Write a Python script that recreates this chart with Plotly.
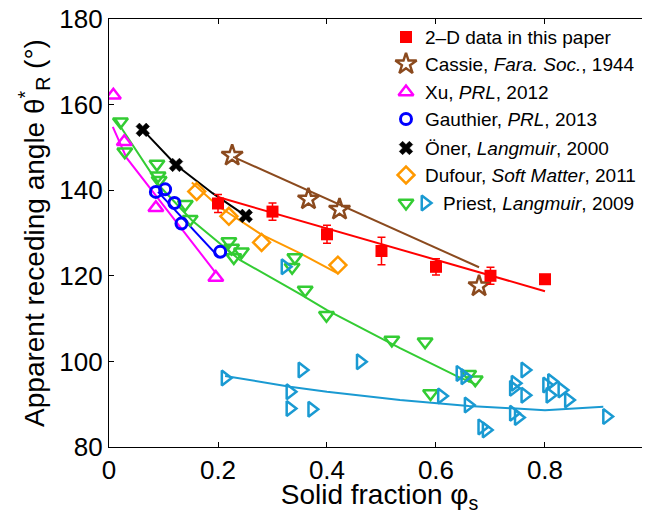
import plotly.graph_objects as go

# ---------------- data ----------------
red_x = [0.2, 0.3, 0.4, 0.5, 0.6, 0.7, 0.8]
red_y = [136.9, 135.0, 129.7, 125.8, 122.1, 120.0, 119.2]
red_err = [2.1, 2.0, 2.1, 3.2, 1.9, 2.0, 0.0]
red_fit_x = [0.2, 0.8]
red_fit_y = [138.4, 116.4]

cassie_x = [0.226, 0.366, 0.423, 0.679]
cassie_y = [148.1, 137.9, 135.5, 117.6]
cassie_fit_x = [0.228, 0.679]
cassie_fit_y = [147.8, 122.0]

xu_x = [0.008, 0.028, 0.086, 0.196]
xu_y = [162.2, 151.3, 135.9, 119.6]
xu_fit_x = [0.007, 0.032, 0.194]
xu_fit_y = [154.8, 147.6, 121.0]

gauthier_x = [0.086, 0.103, 0.120, 0.133, 0.204]
gauthier_y = [139.6, 140.2, 137.0, 132.2, 125.6]
gauthier_fit_x = [0.090, 0.202]
gauthier_fit_y = [139.6, 124.3]

oner_x = [0.062, 0.123, 0.251]
oner_y = [154.1, 145.9, 134.0]
oner_fit_x = [0.062, 0.123, 0.190, 0.251]
oner_fit_y = [154.1, 145.9, 139.3, 134.0]

dufour_x = [0.161, 0.220, 0.280, 0.420]
dufour_y = [139.7, 133.9, 127.8, 122.5]
dufour_fit_x = [0.152, 0.200, 0.280, 0.350, 0.418]
dufour_fit_y = [141.8, 136.3, 129.6, 125.3, 120.7]

priest_g_x = [0.021, 0.029, 0.088, 0.090, 0.092, 0.140, 0.149, 0.220, 0.225, 0.243,
              0.229, 0.341, 0.336, 0.360, 0.399, 0.519, 0.580, 0.590, 0.660, 0.672]
priest_g_y = [156.0, 149.0, 146.1, 143.4, 142.3, 136.7, 133.2, 128.0, 126.5, 125.6,
              124.3, 124.3, 122.0, 116.7, 110.8, 105.0, 104.6, 92.5, 97.0, 95.7]
priest_g_fit_x = [0.011, 0.094, 0.152, 0.240, 0.350, 0.400, 0.534, 0.641, 0.675]
priest_g_fit_y = [156.8, 140.8, 133.0, 123.7, 115.8, 112.0, 103.1, 96.4, 94.5]

priest_c_x = [0.323, 0.213, 0.354, 0.332, 0.332, 0.372, 0.461, 0.644, 0.653, 0.610,
              0.659, 0.684, 0.692, 0.763, 0.745, 0.742, 0.763, 0.742, 0.751, 0.803,
              0.812, 0.809, 0.831, 0.843, 0.913]
priest_c_y = [122.1, 96.1, 98.0, 92.9, 89.0, 88.8, 99.9, 97.2, 96.4, 91.9,
              89.8, 84.7, 84.0, 98.0, 94.9, 93.7, 92.1, 87.9, 86.9, 94.5,
              95.3, 92.1, 93.3, 91.0, 87.1]
priest_c_fit_x = [0.213, 0.332, 0.400, 0.534, 0.660, 0.800, 0.907]
priest_c_fit_y = [96.6, 94.1, 92.9, 91.0, 89.6, 88.6, 89.4]

x_ticks = [0, 0.2, 0.4, 0.6, 0.8]
x_tick_text = ["0", "0.2", "0.4", "0.6", "0.8"]
y_ticks = [80, 100, 120, 140, 160, 180]

legend_labels = [
    "2\u2013D data in this paper",
    "Cassie, <i>Fara. Soc.</i>, 1944",
    "Xu, <i>PRL</i>, 2012",
    "Gauthier, <i>PRL</i>, 2013",
    "\u00d6ner, <i>Langmuir</i>, 2000",
    "Dufour, <i>Soft Matter</i>, 2011",
    "Priest, <i>Langmuir</i>, 2009",
]

# ---------------- style ----------------
RED = "#FF0000"
BROWN = "#8B4A1E"
MAGENTA = "#FF00FF"
BLUE = "#0000FF"
BLACK = "#000000"
ORANGE = "#FF9900"
GREEN = "#33CC33"
CYAN = "#1A9AD2"
FONT = "Liberation Sans, Arial, Helvetica, sans-serif"

# page body has an 8px default margin -> figure is shifted by 8px
W, H = 642, 506
ML, MT = 101, 11
PLOT_W, PLOT_H = 541, 428

fig = go.Figure()


def fit(x, y, color):
    fig.add_trace(go.Scatter(x=x, y=y, mode="lines", line=dict(color=color, width=2),
                             showlegend=False, hoverinfo="skip"))


def pts(x, y, color, symbol, size, lw=2.5, **kw):
    fig.add_trace(go.Scatter(x=x, y=y, mode="markers",
                             marker=dict(symbol=symbol, size=size, color=color,
                                         line=dict(color=color, width=lw)),
                             showlegend=False, **kw))


fit(priest_c_fit_x, priest_c_fit_y, CYAN)
fit(priest_g_fit_x, priest_g_fit_y, GREEN)
fit(xu_fit_x, xu_fit_y, MAGENTA)
fit(gauthier_fit_x, gauthier_fit_y, BLUE)
fit(dufour_fit_x, dufour_fit_y, ORANGE)
fit(oner_fit_x, oner_fit_y, BLACK)
fit(cassie_fit_x, cassie_fit_y, BROWN)
fit(red_fit_x, red_fit_y, RED)

pts(priest_g_x, priest_g_y, GREEN, "triangle-down-open", 13)
pts(priest_c_x, priest_c_y, CYAN, "triangle-right-open", 13)
pts(xu_x, xu_y, MAGENTA, "triangle-up-open", 13)
pts(gauthier_x, gauthier_y, BLUE, "circle-open", 11, lw=3)
pts(dufour_x, dufour_y, ORANGE, "diamond-open", 13)
pts(oner_x, oner_y, BLACK, "x", 12, lw=0.5)
pts(cassie_x, cassie_y, BROWN, "star-open", 16)
pts(red_x, red_y, RED, "square", 12, lw=0,
    error_y=dict(type="data", array=red_err, color=RED, thickness=1.5, width=4))

# ---------------- custom legend (pixel-coordinate overlay axes) ----------------
leg_rows = [37, 64, 92, 119, 148, 175, 203]
leg_key_x = 406
leg_text_x = 423
leg_keys = [
    (RED, "square", 12, 0),
    (BROWN, "star-open", 16, 2.5),
    (MAGENTA, "triangle-up-open", 13, 2.5),
    (BLUE, "circle-open", 11, 3),
    (BLACK, "x", 12, 0.5),
    (ORANGE, "diamond-open", 13, 2.5),
    (GREEN, "triangle-down-open", 13, 2.5),
]
for (c, s, sz, lw), yy in zip(leg_keys, leg_rows):
    fig.add_trace(go.Scatter(x=[leg_key_x], y=[yy], xaxis="x2", yaxis="y2", mode="markers",
                             marker=dict(symbol=s, size=sz, color=c, line=dict(color=c, width=lw)),
                             showlegend=False, hoverinfo="skip"))
fig.add_trace(go.Scatter(x=[425], y=[leg_rows[-1]], xaxis="x2", yaxis="y2", mode="markers",
                         marker=dict(symbol="triangle-right-open", size=13, color=CYAN,
                                     line=dict(color=CYAN, width=2.5)),
                         showlegend=False, hoverinfo="skip"))

annotations = []
for i, (lab, yy) in enumerate(zip(legend_labels, leg_rows)):
    annotations.append(dict(x=441 if i == 6 else leg_text_x, y=yy, xref="x2", yref="y2",
                            text=lab, showarrow=False, xanchor="left", yanchor="middle",
                            font=dict(family=FONT, size=19, color="black")))

fig.update_layout(
    width=W, height=H,
    margin=dict(l=ML, r=W - ML - PLOT_W, t=MT, b=H - MT - PLOT_H, autoexpand=False),
    paper_bgcolor="white", plot_bgcolor="white",
    font=dict(family=FONT, color="black"),
    annotations=annotations,
    xaxis=dict(range=[0, 0.9927], tickvals=x_ticks, ticktext=x_tick_text,
               ticks="inside", ticklen=5, tickwidth=1, tickcolor="black",
               showline=True, linecolor="black", linewidth=1.3, mirror="ticks",
               showgrid=False, zeroline=False, tickfont=dict(size=26),
               ticklabeloverflow="allow",
               title=dict(text="Solid fraction \u03c6<sub>s</sub>", font=dict(size=28), standoff=11)),
    yaxis=dict(range=[80, 180], tickvals=y_ticks,
               ticks="inside", ticklen=5, tickwidth=1, tickcolor="black",
               showline=True, linecolor="black", linewidth=1.3, mirror=False,
               showgrid=False, zeroline=False, tickfont=dict(size=26),
               ticklabeloverflow="allow",
               title=dict(text="Apparent receding angle \u03b8<sup>*</sup><sub>R</sub> (\u00b0)",
                          font=dict(size=28), standoff=6)),
    xaxis2=dict(overlaying="x", range=[109, 650], visible=False, anchor="y2"),
    yaxis2=dict(overlaying="y", range=[447, 19], visible=False, anchor="x2"),
)

fig.write_html("out.html")
